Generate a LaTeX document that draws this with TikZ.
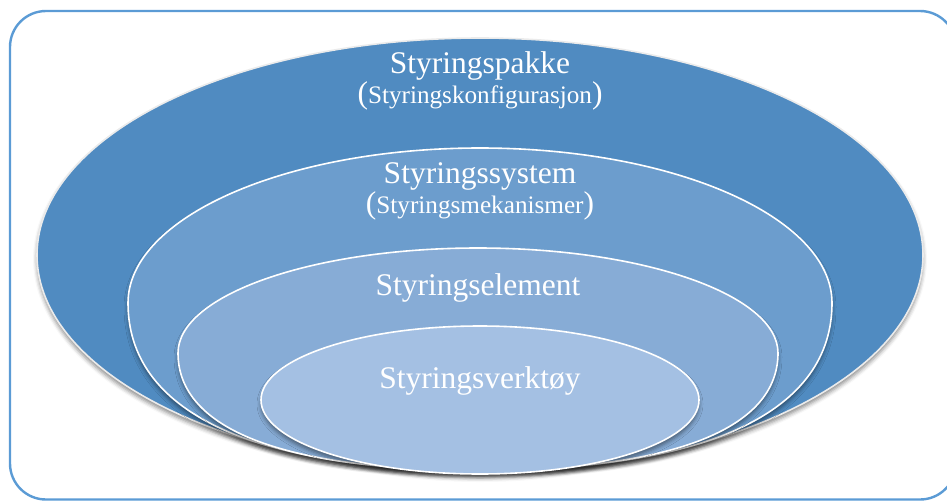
\documentclass[tikz,border=0pt]{standalone}
\usepackage{fontspec}
\setmainfont{Liberation Serif}
\usetikzlibrary{shapes.geometric,shadows.blur}
\definecolor{frameblue}{RGB}{91,155,213}
\definecolor{ringA}{RGB}{80,139,193}
\definecolor{ringB}{RGB}{108,157,205}
\definecolor{ringC}{RGB}{135,172,214}
\definecolor{ringD}{RGB}{164,192,227}
\tikzset{
  ringshadow/.style={blur shadow={shadow xshift=0pt, shadow yshift=-4pt, shadow blur radius=4pt, shadow opacity=45}},
  ring/.style={ellipse, inner sep=0pt, draw=white, line width=1.6pt, ringshadow},
  ringpath/.style={draw=white, line width=1.6pt, ringshadow},
  bigtxt/.style={anchor=base, text=white, inner sep=0pt, font=\fontsize{31.5}{36}\selectfont},
}
\newcommand{\subtxt}[1]{({\fontsize{25.2}{30}\selectfont #1})}
% egg shape: cx, cy, rx, ry top, ry bottom, bottom bezier factor
\newcommand{\eggpath}[6]{%
  ({#1-#3},{#2}) .. controls ({#1-#3},{#2-0.5523*#4}) and ({#1-0.5523*#3},{#2-#4}) .. ({#1},{#2-#4})
  .. controls ({#1+0.5523*#3},{#2-#4}) and ({#1+#3},{#2-0.5523*#4}) .. ({#1+#3},{#2})
  .. controls ({#1+#3},{#2+#6*#5}) and ({#1+#6*#3},{#2+#5}) .. ({#1},{#2+#5})
  .. controls ({#1-#6*#3},{#2+#5}) and ({#1-#3},{#2+#6*#5}) .. cycle}
\begin{document}
\begin{tikzpicture}[x=1pt,y=-1pt]
\useasboundingbox (0,0) rectangle (947,501);
\draw[frameblue, line width=2.4pt, rounded corners=36pt] (10,11) rectangle (956,499.5);
\node[ring, fill=ringA, draw=white!92!black, minimum width=886pt, minimum height=434pt] (e1) at (480,255) {};
\path[ringpath, fill=ringB] \eggpath{480}{303}{352}{155}{167}{0.65};
\path[ringpath, fill=ringC] \eggpath{478}{353}{300}{105}{117}{0.65};
\node[ring, fill=ringD, minimum width=438pt, minimum height=148pt] (e4) at (480,400) {};
\node[bigtxt] (t1) at (480,73) {Styringspakke};
\node[bigtxt] (t1b) at (480,103) {\subtxt{Styringskonfigurasjon}};
\node[bigtxt] (t2) at (480,183) {Styringssystem};
\node[bigtxt] (t2b) at (480,213) {\subtxt{Styringsmekanismer}};
\node[bigtxt] (t3) at (478,295) {Styringselement};
\node[bigtxt] (t4) at (480,388) {Styringsverktøy};
\end{tikzpicture}
\end{document}
